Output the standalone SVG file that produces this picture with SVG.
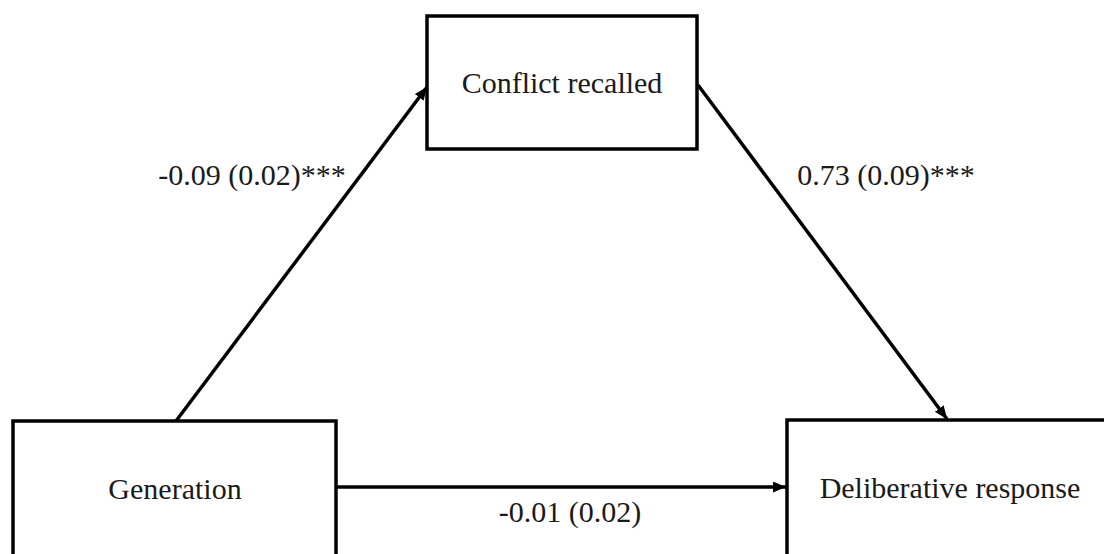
<svg xmlns="http://www.w3.org/2000/svg" width="1104" height="554" viewBox="0 0 1104 554">
  <style>
    .box { fill: #ffffff; stroke: #000000; stroke-width: 3.5; }
    .lbl { font-family: "Liberation Serif", "Times New Roman", serif; font-size: 30px; fill: #1a1a1a; text-anchor: middle; }
    .conn { stroke: #000000; stroke-width: 3.5; fill: none; }
  </style>
  <defs>
    <marker id="arrow" markerUnits="userSpaceOnUse" markerWidth="14" markerHeight="12" refX="13" refY="5.5" orient="auto">
      <path d="M0,0 L13,5.5 L0,11 Z" fill="#000000"/>
    </marker>
  </defs>
  <rect width="1104" height="554" fill="#ffffff"/>
  <g id="connectors">
    <line class="conn" x1="176" y1="421" x2="427" y2="87" marker-end="url(#arrow)"/>
    <line class="conn" x1="698" y1="85" x2="947" y2="419" marker-end="url(#arrow)"/>
    <line class="conn" x1="336" y1="487" x2="786" y2="487" marker-end="url(#arrow)"/>
    <text class="lbl" x="252" y="185">-0.09 (0.02)***</text>
    <text class="lbl" x="886" y="185">0.73 (0.09)***</text>
    <text class="lbl" x="570" y="522">-0.01 (0.02)</text>
  </g>
  <g id="node-conflict">
    <rect class="box" x="427" y="16" width="270" height="133"/>
    <text class="lbl" x="562" y="93">Conflict recalled</text>
  </g>
  <g id="node-generation">
    <rect class="box" x="13" y="421" width="323" height="200"/>
    <text class="lbl" x="175" y="499">Generation</text>
  </g>
  <g id="node-deliberative">
    <rect class="box" x="787" y="420" width="400" height="200"/>
    <text class="lbl" x="950" y="498">Deliberative response</text>
  </g>
</svg>
